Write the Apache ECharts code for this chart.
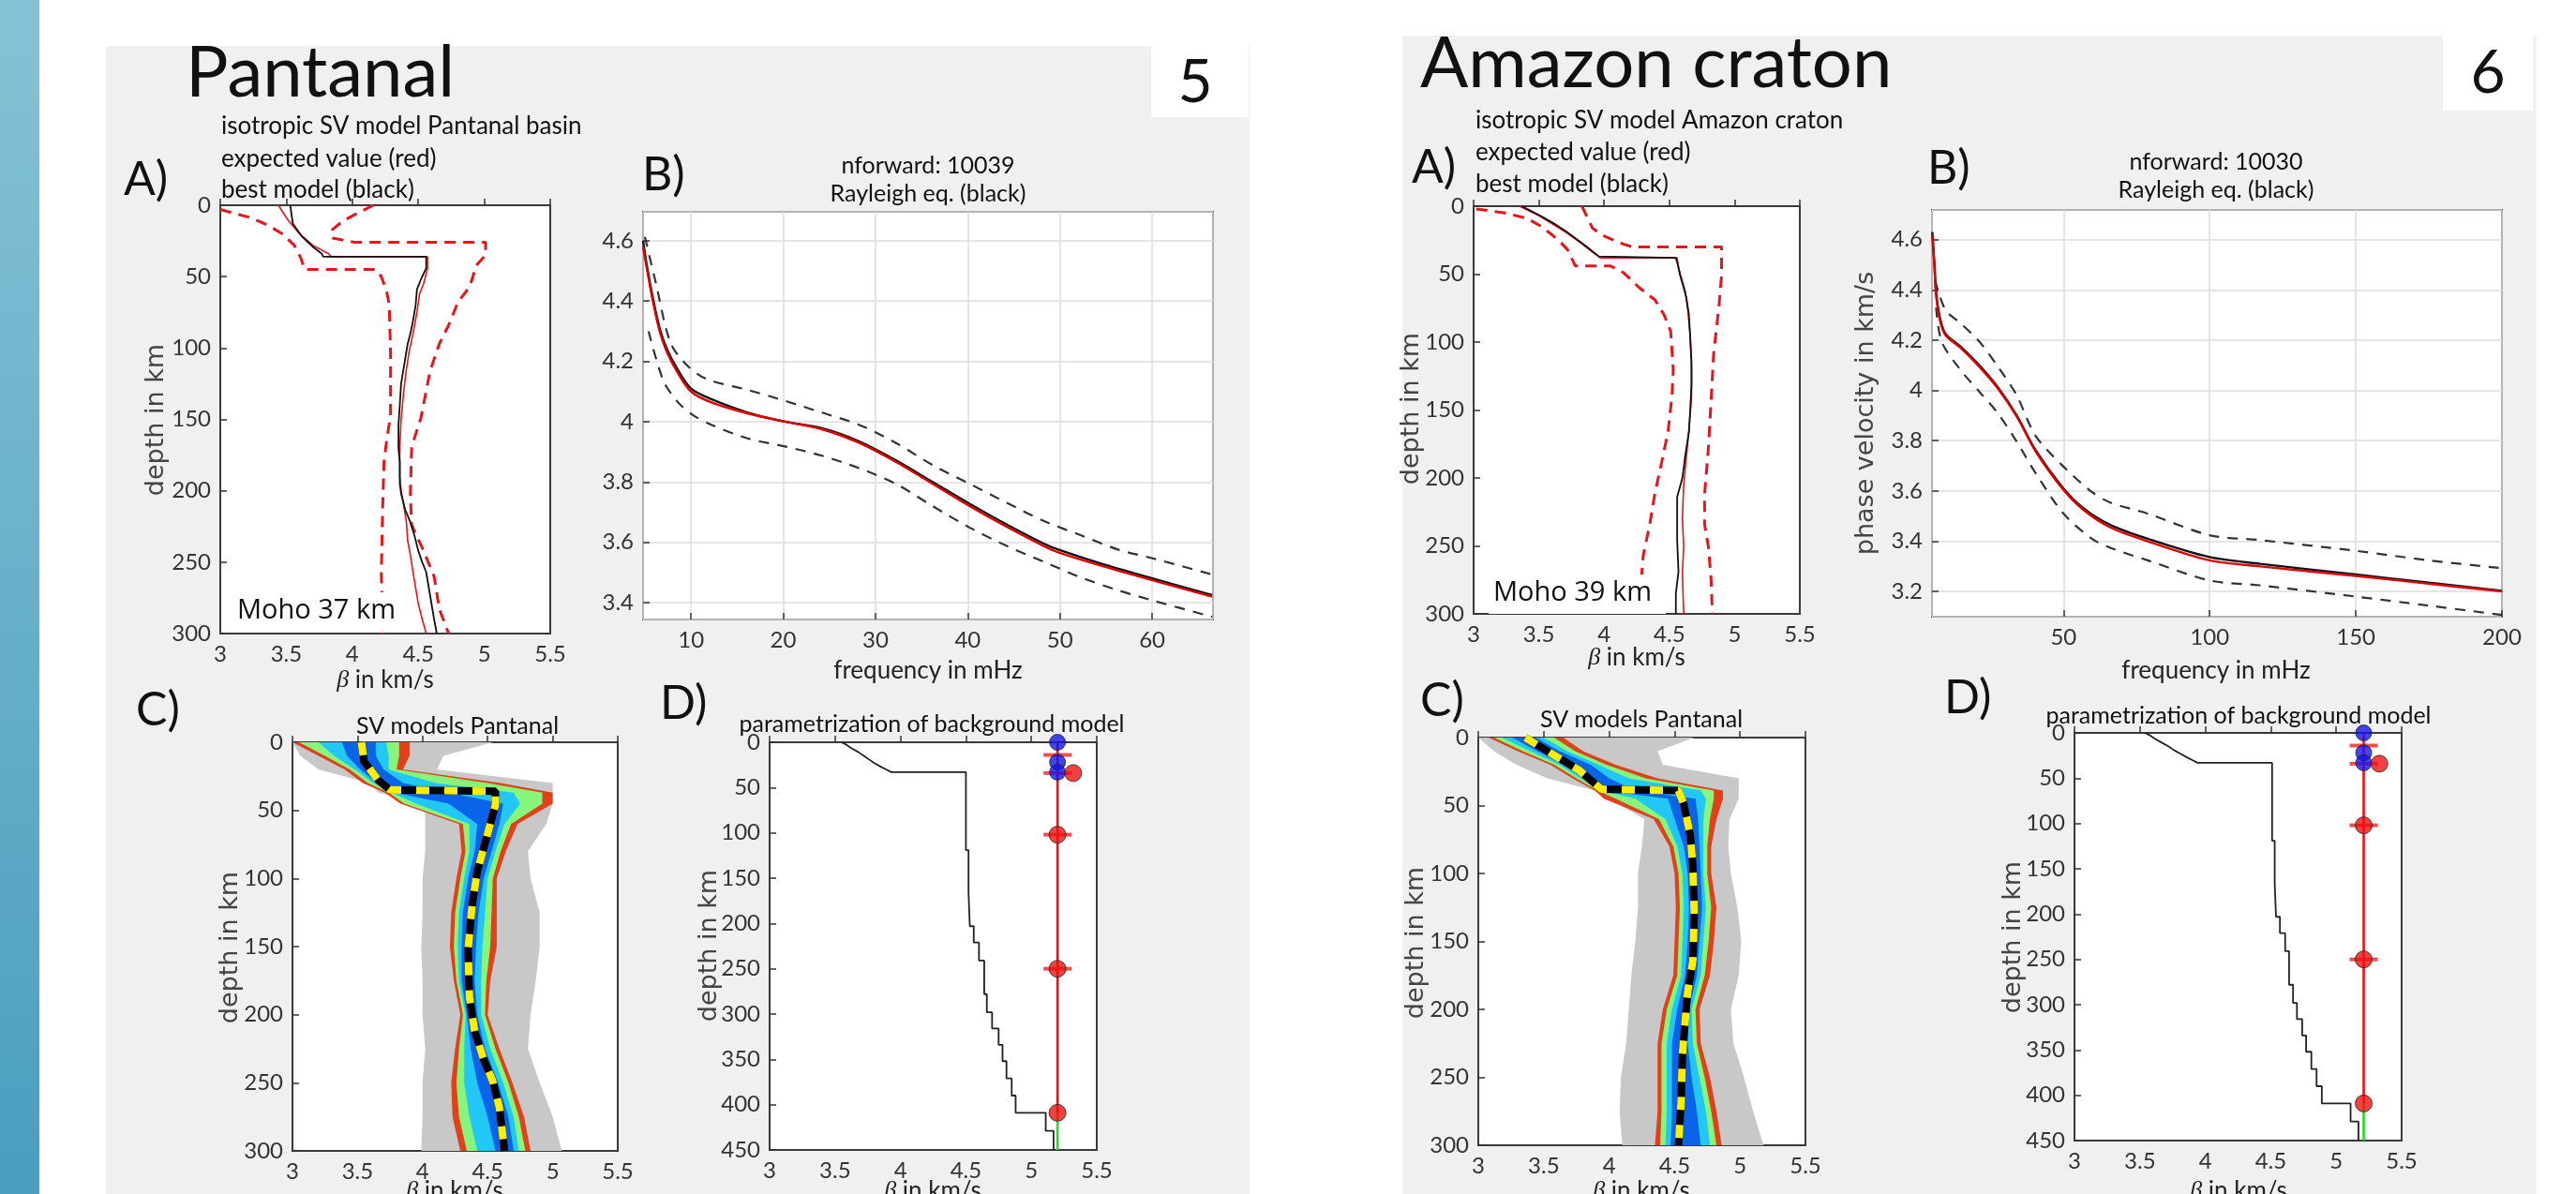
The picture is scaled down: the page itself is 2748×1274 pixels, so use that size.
<!DOCTYPE html>
<html>
<head>
    <meta charset="utf-8">
</head>
<body style="margin: 0; background: #fff">
<div id="container" style="width: 2748px; height: 1274px"></div>
<script src="https://cdn.jsdelivr.net/npm/echarts@6/dist/echarts.min.js"></script>
<script type="text/javascript">
    // ---------- Pantanal (5) ----------
    // A) velocity profiles [beta km/s, depth km]
    var panA_lo = [[3.00,3],[3.12,6],[3.24,9],[3.36,14],[3.47,20],[3.56,28],[3.61,37],[3.64,45],[4.18,45],[4.22,50],[4.26,60],[4.28,70],[4.29,103],[4.29,147],[4.26,165],[4.24,180],[4.23,213],[4.22,257],[4.23,300]];
    var panA_up = [[4.16,0],[4.05,5],[3.93,11],[3.85,17],[3.85,23],[4.02,26],[5.01,26],[5.01,35],[4.94,42],[4.89,57],[4.80,68],[4.73,84],[4.66,97],[4.59,116],[4.56,130],[4.52,149],[4.45,169],[4.44,202],[4.45,224],[4.54,242],[4.62,260],[4.66,283],[4.73,300]];
    var panA_exp = [[3.44,0],[3.51,10],[3.60,20],[3.70,28],[3.82,34],[3.84,36],[4.57,36],[4.57,44],[4.56,48],[4.54,55],[4.51,62],[4.49,75],[4.46,90],[4.43,103],[4.41,115],[4.39,130],[4.37,150],[4.36,170],[4.36,190],[4.37,200],[4.39,210],[4.41,222],[4.42,235],[4.44,245],[4.46,257],[4.48,268],[4.50,279],[4.53,290],[4.56,300]];
    var panA_best = [[3.53,0],[3.55,13],[3.62,22],[3.70,29],[3.77,34],[3.78,36],[4.56,36],[4.56,44],[4.55,46],[4.52,52],[4.49,59],[4.48,70],[4.46,81],[4.44,90],[4.42,97],[4.40,108],[4.37,125],[4.36,140],[4.35,154],[4.35,170],[4.36,180],[4.36,195],[4.37,202],[4.40,213],[4.44,222],[4.47,231],[4.50,242],[4.53,250],[4.56,257],[4.58,268],[4.60,279],[4.62,290],[4.64,300]];

    // B) dispersion, frequency (mHz) vs phase velocity (km/s)
    var panB_freq = [4.8, 5.2, 5.8, 6.6, 7.4, 8.6, 10, 12.2, 16.2, 20.2, 24.2, 28.2, 32.2, 36.2, 40.2, 44.3, 48.3, 49.9, 54.3, 60.3, 66.5];
    var panB_red = [4.58, 4.51, 4.41, 4.30, 4.23, 4.16, 4.10, 4.064, 4.027, 4.0, 3.975, 3.93, 3.867, 3.794, 3.72, 3.65, 3.587, 3.566, 3.524, 3.472, 3.42];
    var panB_black = [4.60, 4.52, 4.42, 4.31, 4.24, 4.17, 4.11, 4.075, 4.03, 4.0, 3.978, 3.935, 3.872, 3.80, 3.728, 3.658, 3.595, 3.575, 3.531, 3.478, 3.425];
    var panB_upFreq = [5.0, 6.2, 7.8, 9.8, 11.8, 16.2, 20.2, 24.2, 28.2, 32.2, 36.2, 40.2, 44.3, 48.3, 52.3, 56.3, 60.3, 66.5];
    var panB_up = [4.613, 4.458, 4.26, 4.18, 4.14, 4.105, 4.069, 4.03, 3.99, 3.93, 3.856, 3.794, 3.73, 3.67, 3.623, 3.576, 3.545, 3.493];
    var panB_loFreq = [5.4, 7.0, 8.6, 10.2, 12.2, 16.2, 20.2, 24.2, 28.2, 32.2, 36.2, 40.2, 44.3, 48.3, 52.3, 56.3, 60.3, 66.5];
    var panB_lo = [4.30, 4.136, 4.064, 4.022, 3.99, 3.944, 3.918, 3.887, 3.846, 3.794, 3.72, 3.649, 3.587, 3.535, 3.483, 3.441, 3.405, 3.353];

    // C) model ensemble envelopes (left/right beta at each depth)
    var panC_depth = [0, 10, 20, 30, 37, 45, 60, 80, 100, 125, 150, 175, 200, 225, 250, 275, 300];
    var panC_grayL = [3.00, 3.06, 3.20, 3.59, 3.66, 4.02, 4.02, 4.02, 4.00, 4.00, 3.99, 4.00, 4.00, 4.02, 4.00, 4.00, 3.99];
    var panC_grayR = [4.54, 4.16, 4.11, 5.00, 5.00, 5.00, 4.95, 4.81, 4.83, 4.90, 4.90, 4.87, 4.83, 4.81, 4.90, 5.00, 5.07];
    var panC_redL = [3.00, 3.20, 3.40, 3.54, 3.71, 3.83, 4.28, 4.30, 4.26, 4.22, 4.21, 4.24, 4.29, 4.25, 4.22, 4.23, 4.29];
    var panC_redR = [3.90, 3.90, 3.85, 4.60, 5.00, 5.00, 4.73, 4.64, 4.57, 4.57, 4.57, 4.52, 4.50, 4.59, 4.69, 4.78, 4.83];
    var panC_greenL = [3.05, 3.25, 3.44, 3.58, 3.74, 3.86, 4.31, 4.33, 4.29, 4.25, 4.24, 4.26, 4.31, 4.28, 4.26, 4.28, 4.34];
    var panC_greenR = [3.82, 3.82, 3.80, 4.50, 4.92, 4.92, 4.68, 4.60, 4.54, 4.53, 4.52, 4.49, 4.48, 4.56, 4.66, 4.74, 4.79];
    var panC_cyanL = [3.20, 3.32, 3.48, 3.62, 3.76, 3.95, 4.36, 4.36, 4.32, 4.28, 4.27, 4.28, 4.33, 4.32, 4.32, 4.36, 4.42];
    var panC_cyanR = [3.72, 3.74, 3.74, 4.10, 4.70, 4.75, 4.63, 4.56, 4.50, 4.48, 4.46, 4.45, 4.45, 4.52, 4.62, 4.70, 4.74];
    var panC_blueL = [3.38, 3.42, 3.52, 3.65, 3.78, 4.20, 4.42, 4.40, 4.35, 4.31, 4.30, 4.30, 4.34, 4.37, 4.42, 4.50, 4.56];
    var panC_blueR = [3.64, 3.64, 3.70, 3.85, 4.20, 4.62, 4.59, 4.53, 4.47, 4.43, 4.41, 4.40, 4.42, 4.48, 4.58, 4.66, 4.70];
    var panC_mean = [[3.53,0],[3.55,14],[3.66,28],[3.75,35],[3.76,36],[4.56,36],[4.56,46],[4.50,67],[4.42,95],[4.38,120],[4.35,152],[4.36,187],[4.40,212],[4.47,233],[4.54,249],[4.59,268],[4.63,300]];

    // D) background model parametrization
    var panD_model = [[3.55,0],[3.59,3],[3.63,7],[3.68,11],[3.72,15],[3.76,19],[3.80,23],[3.85,27],[3.89,30],[3.93,33],[4.50,33],[4.50,119],[4.52,119],[4.52,166],[4.53,166],[4.53,203],[4.56,203],[4.56,221],[4.60,221],[4.60,241],[4.64,241],[4.64,278],[4.66,278],[4.66,298],[4.70,298],[4.70,316],[4.75,316],[4.75,334],[4.78,334],[4.78,352],[4.81,352],[4.81,371],[4.85,371],[4.85,390],[4.88,390],[4.88,409],[5.11,409],[5.11,429],[5.17,429],[5.17,450]];
    var panD_redLine = [[5.2,0],[5.2,409]];
    var panD_greenLine = [[5.2,409],[5.2,450]];
    var panD_blue = [[5.2,0],[5.2,22],[5.2,33]];
    var panD_bars = [[5.2,14],[5.2,34],[5.2,102],[5.2,250]];
    var panD_red = [[5.2,102],[5.2,250],[5.2,409],[5.32,34]];

    // ---------- Amazon craton (6) ----------
    var amaA_lo = [[3.02,2],[3.24,5],[3.41,9],[3.52,15],[3.60,21],[3.67,27],[3.72,32],[3.78,44],[4.05,44],[4.15,49],[4.27,60],[4.39,69],[4.46,80],[4.51,92],[4.53,120],[4.52,140],[4.49,166],[4.44,189],[4.39,211],[4.35,234],[4.30,257],[4.28,280],[4.28,300]];
    var amaA_up = [[3.83,0],[3.87,8],[3.91,16],[3.98,21],[4.05,24],[4.15,28],[4.22,30],[4.90,30],[4.90,51],[4.88,74],[4.84,108],[4.82,143],[4.80,177],[4.77,212],[4.77,234],[4.80,251],[4.82,275],[4.83,300]];
    var amaA_exp = [[3.35,0],[3.50,7],[3.62,14],[3.72,20],[3.82,27],[3.90,33],[3.97,38],[4.56,38],[4.57,45],[4.59,52],[4.62,62],[4.64,75],[4.66,95],[4.67,120],[4.67,140],[4.65,165],[4.63,185],[4.61,205],[4.60,230],[4.61,250],[4.60,270],[4.61,300]];
    var amaA_best = [[3.37,0],[3.51,7],[3.62,13],[3.70,18],[3.80,25],[3.87,30],[3.96,37],[3.97,38],[4.55,38],[4.57,45],[4.58,50],[4.61,60],[4.63,67],[4.65,80],[4.66,97],[4.67,115],[4.67,131],[4.66,150],[4.65,166],[4.62,185],[4.60,200],[4.56,214],[4.56,246],[4.57,269],[4.55,285],[4.55,300]];

    var amaB_freq = [5.1, 5.8, 6.4, 7.7, 9.6, 14.7, 21.2, 27.6, 34, 40.4, 50, 57, 66, 78.8, 100, 117.3, 150, 175, 200];
    var amaB_red = [4.616, 4.50, 4.38, 4.28, 4.22, 4.17, 4.094, 4.007, 3.896, 3.759, 3.604, 3.523, 3.455, 3.40, 3.324, 3.30, 3.262, 3.231, 3.20];
    var amaB_black = [4.63, 4.51, 4.39, 4.29, 4.225, 4.175, 4.10, 4.012, 3.90, 3.763, 3.61, 3.53, 3.465, 3.41, 3.337, 3.31, 3.268, 3.235, 3.203];
    var amaB_upFreq = [6.0, 9.6, 14.7, 21.2, 27.6, 34, 40.4, 50, 59.6, 66, 78.8, 100, 117, 150, 175, 200];
    var amaB_up = [4.44, 4.32, 4.268, 4.194, 4.094, 3.98, 3.82, 3.697, 3.597, 3.554, 3.51, 3.424, 3.405, 3.362, 3.324, 3.293];
    var amaB_loFreq = [6.4, 8.3, 14.7, 21.2, 27.6, 34, 40.4, 50, 59.6, 66, 78.8, 100, 117, 150, 175, 200];
    var amaB_lo = [4.33, 4.194, 4.082, 3.995, 3.908, 3.796, 3.672, 3.51, 3.411, 3.374, 3.324, 3.244, 3.225, 3.18, 3.144, 3.107];

    var amaC_depth = [0, 10, 20, 30, 39, 45, 60, 80, 100, 125, 150, 175, 200, 225, 250, 275, 300];
    var amaC_grayL = [3.00, 3.12, 3.29, 3.53, 3.89, 4.00, 4.27, 4.25, 4.22, 4.22, 4.20, 4.17, 4.15, 4.13, 4.09, 4.08, 4.10];
    var amaC_grayR = [4.65, 4.37, 4.41, 4.99, 4.99, 4.99, 4.92, 4.91, 4.93, 4.98, 5.01, 4.99, 4.93, 4.95, 5.03, 5.10, 5.18];
    var amaC_redL = [3.08, 3.30, 3.55, 3.72, 3.89, 3.96, 4.34, 4.46, 4.50, 4.51, 4.50, 4.49, 4.41, 4.37, 4.37, 4.37, 4.35];
    var amaC_redR = [3.65, 3.80, 4.05, 4.37, 4.87, 4.87, 4.82, 4.78, 4.78, 4.82, 4.80, 4.77, 4.69, 4.70, 4.77, 4.82, 4.86];
    var amaC_greenL = [3.12, 3.34, 3.58, 3.75, 3.91, 4.05, 4.38, 4.49, 4.53, 4.54, 4.53, 4.52, 4.44, 4.40, 4.40, 4.40, 4.39];
    var amaC_greenR = [3.58, 3.74, 3.98, 4.28, 4.80, 4.80, 4.77, 4.75, 4.75, 4.78, 4.76, 4.73, 4.66, 4.67, 4.73, 4.78, 4.82];
    var amaC_cyanL = [3.18, 3.40, 3.62, 3.78, 3.93, 4.20, 4.43, 4.52, 4.56, 4.57, 4.56, 4.55, 4.48, 4.44, 4.44, 4.44, 4.43];
    var amaC_cyanR = [3.50, 3.68, 3.92, 4.15, 4.70, 4.74, 4.72, 4.72, 4.72, 4.74, 4.72, 4.70, 4.63, 4.64, 4.69, 4.74, 4.77];
    var amaC_blueL = [3.26, 3.45, 3.65, 3.81, 3.95, 4.45, 4.50, 4.57, 4.60, 4.61, 4.60, 4.58, 4.52, 4.48, 4.48, 4.48, 4.47];
    var amaC_blueR = [3.44, 3.62, 3.86, 4.00, 4.20, 4.66, 4.68, 4.69, 4.70, 4.71, 4.69, 4.67, 4.61, 4.60, 4.63, 4.67, 4.70];
    var amaC_mean = [[3.36,0],[3.58,13],[3.77,24],[3.94,38],[3.95,39],[4.53,39],[4.57,49],[4.62,72],[4.64,95],[4.65,130],[4.64,164],[4.60,187],[4.58,210],[4.56,233],[4.55,268],[4.53,300]];

    var amaD_model = [[3.54,0],[3.58,3],[3.62,7],[3.67,11],[3.72,15],[3.76,19],[3.81,23],[3.86,27],[3.90,30],[3.94,33],[4.51,33],[4.51,119],[4.53,119],[4.53,166],[4.54,166],[4.54,203],[4.57,203],[4.57,221],[4.61,221],[4.61,241],[4.64,241],[4.64,278],[4.67,278],[4.67,298],[4.70,298],[4.70,316],[4.74,316],[4.74,334],[4.77,334],[4.77,352],[4.81,352],[4.81,371],[4.85,371],[4.85,390],[4.89,390],[4.89,409],[5.11,409],[5.11,429],[5.17,429],[5.17,450]];
    var amaD_redLine = [[5.21,0],[5.21,409]];
    var amaD_greenLine = [[5.21,409],[5.21,450]];
    var amaD_blue = [[5.21,0],[5.21,22],[5.21,33]];
    var amaD_bars = [[5.21,14],[5.21,34],[5.21,102],[5.21,250]];
    var amaD_red = [[5.21,102],[5.21,250],[5.21,409],[5.33,34]];

    var UI = 'Lato, "Open Sans", sans-serif';
    var AXF = '"DejaVu Sans", sans-serif';

    function zip(xs, ys) {
        return xs.map(function (x, i) { return [x, ys[i]]; });
    }

    var grids = [
        {left: 235, top: 219, width: 352, height: 457},   // 5 A
        {left: 686, top: 226, width: 608, height: 435},   // 5 B
        {left: 312, top: 792, width: 347, height: 436},   // 5 C
        {left: 821, top: 792, width: 349, height: 435},   // 5 D
        {left: 1572, top: 220, width: 348, height: 435},  // 6 A
        {left: 2061, top: 224, width: 608, height: 434},  // 6 B
        {left: 1577, top: 787, width: 349, height: 435},  // 6 C
        {left: 2213, top: 782, width: 349, height: 435}   // 6 D
    ].map(function (g) {
        g.show = true;
        g.backgroundColor = '#fff';
        g.borderColor = '#3a3a3a';
        g.borderWidth = 2;
        return g;
    });

    function axisBase(gi) {
        return {
            type: 'value', gridIndex: gi,
            axisLine: {show: false},
            axisTick: {show: true, inside: true, length: 7, lineStyle: {color: '#333', width: 1.5}},
            axisLabel: {fontSize: 24, color: '#333', fontFamily: UI, margin: 10},
            splitLine: {show: false}
        };
    }
    function velAxis(gi) {
        var a = axisBase(gi);
        a.min = 3; a.max = 5.5; a.interval = 0.5;
        return a;
    }
    function depthAxis(gi, max) {
        var a = axisBase(gi);
        a.min = 0; a.max = max; a.interval = 50; a.inverse = true;
        return a;
    }
    function dispAxis(gi, min, max, split, showMax) {
        var a = axisBase(gi);
        a.min = min; a.max = max; a.splitNumber = split;
        a.axisLabel.showMinLabel = false;
        a.axisLabel.showMaxLabel = showMax;
        a.splitLine = {show: true, lineStyle: {color: '#dcdcdc', width: 1.5}};
        return a;
    }

    var xAxes = [
        velAxis(0), dispAxis(1, 4.8, 66.6, 6, false), velAxis(2), velAxis(3),
        velAxis(4), dispAxis(5, 5, 200, 4, true), velAxis(6), velAxis(7)
    ];
    var yAxes = [
        depthAxis(0, 300), dispAxis(1, 3.344, 4.696, 7, false), depthAxis(2, 300), depthAxis(3, 450),
        depthAxis(4, 300), dispAxis(5, 3.10, 4.718, 7, false), depthAxis(6, 300), depthAxis(7, 450)
    ];

    function line(gi, data, color, width, type, z) {
        return {
            type: 'line', xAxisIndex: gi, yAxisIndex: gi, data: data,
            symbol: 'none', showSymbol: false, silent: true, z: z || 3,
            lineStyle: {color: color, width: width, type: type || 'solid'}
        };
    }
    function smoothLine(gi, data, color, width, type) {
        var s = line(gi, data, color, width, type);
        s.smooth = 0.3;
        return s;
    }
    function band(gi, depth, L, R, color) {
        return {
            type: 'custom', xAxisIndex: gi, yAxisIndex: gi, silent: true, z: 2,
            data: [[L[0], depth[0]]],
            renderItem: function (params, api) {
                var pts = [];
                for (var i = 0; i < depth.length; i++) pts.push(api.coord([L[i], depth[i]]));
                for (var j = depth.length - 1; j >= 0; j--) pts.push(api.coord([R[j], depth[j]]));
                return {type: 'polygon', shape: {points: pts}, style: {fill: color}};
            }
        };
    }
    function dots(gi, data, color, size, symbol) {
        return {
            type: 'scatter', xAxisIndex: gi, yAxisIndex: gi, data: data, silent: true, z: 5,
            symbol: symbol || 'circle', symbolSize: size,
            itemStyle: {color: color, borderColor: symbol ? color : '#222', borderWidth: symbol ? 0 : 1}
        };
    }

    var RED = '#e8141b';
    var series = [];

    function profilePanel(gi, lo, up, exp, best) {
        series.push(line(gi, lo, RED, 3, [12, 8]));
        series.push(line(gi, up, RED, 3, [12, 8]));
        series.push(line(gi, exp, RED, 1.6));
        series.push(line(gi, best, '#111', 1.8));
    }
    function dispPanel(gi, f, black, red, uf, up, lf, lo) {
        series.push(smoothLine(gi, zip(uf, up), '#333', 2.2, [11, 9]));
        series.push(smoothLine(gi, zip(lf, lo), '#333', 2.2, [11, 9]));
        series.push(smoothLine(gi, zip(f, black), '#111', 2.4));
        series.push(smoothLine(gi, zip(f, red), '#e00000', 2.4));
    }
    function ensemblePanel(gi, d, b, mean) {
        series.push(band(gi, d, b.grayL, b.grayR, '#c8c8c8'));
        series.push(band(gi, d, b.redL, b.redR, '#e0401a'));
        series.push(band(gi, d, b.greenL, b.greenR, '#86f57a'));
        series.push(band(gi, d, b.cyanL, b.cyanR, '#22c8f5'));
        series.push(band(gi, d, b.blueL, b.blueR, '#0a64e8'));
        series.push(line(gi, mean, '#000', 8, 'solid', 4));
        series.push(line(gi, mean, '#ffee00', 8, [14, 16], 4));
    }
    function paramPanel(gi, model, redLine, greenLine, blue, bars, red) {
        series.push(line(gi, model, '#222', 1.8));
        series.push(line(gi, redLine, '#ee1111', 2.6));
        series.push(line(gi, greenLine, '#22dd22', 2.6));
        series.push(dots(gi, bars, '#ee2222', [30, 4], 'rect'));
        series.push(dots(gi, blue, '#1515e8', 17));
        series.push(dots(gi, red, '#ee1111', 18));
    }

    profilePanel(0, panA_lo, panA_up, panA_exp, panA_best);
    dispPanel(1, panB_freq, panB_black, panB_red, panB_upFreq, panB_up, panB_loFreq, panB_lo);
    ensemblePanel(2, panC_depth, {
        grayL: panC_grayL, grayR: panC_grayR, redL: panC_redL, redR: panC_redR,
        greenL: panC_greenL, greenR: panC_greenR, cyanL: panC_cyanL, cyanR: panC_cyanR,
        blueL: panC_blueL, blueR: panC_blueR
    }, panC_mean);
    paramPanel(3, panD_model, panD_redLine, panD_greenLine, panD_blue, panD_bars, panD_red);

    profilePanel(4, amaA_lo, amaA_up, amaA_exp, amaA_best);
    dispPanel(5, amaB_freq, amaB_black, amaB_red, amaB_upFreq, amaB_up, amaB_loFreq, amaB_lo);
    ensemblePanel(6, amaC_depth, {
        grayL: amaC_grayL, grayR: amaC_grayR, redL: amaC_redL, redR: amaC_redR,
        greenL: amaC_greenL, greenR: amaC_greenR, cyanL: amaC_cyanL, cyanR: amaC_cyanR,
        blueL: amaC_blueL, blueR: amaC_blueR
    }, amaC_mean);
    paramPanel(7, amaD_model, amaD_redLine, amaD_greenLine, amaD_blue, amaD_bars, amaD_red);

    // ---------- texts and backgrounds ----------
    function txt(x, y, s, size, o) {
        o = o || {};
        return {
            type: 'text', x: x, y: y, rotation: o.rot || 0, z: 100, silent: true,
            style: {
                text: s, fontSize: size, fontFamily: o.font || UI, fill: o.color || '#111',
                textAlign: o.align || 'left', textVerticalAlign: 'middle',
                align: o.align || 'left', verticalAlign: 'middle', rich: o.rich
            }
        };
    }
    function box(x, y, w, h, fill, z) {
        return {type: 'rect', silent: true, z: z, shape: {x: x, y: y, width: w, height: h}, style: {fill: fill}};
    }
    var betaRich = {i: {fontStyle: 'italic', fontSize: 26, fontFamily: 'serif'}};
    function betaLabel(x, y) {
        return txt(x, y, '{i|β} in km/s', 26, {align: 'center', rich: betaRich, color: '#222'});
    }
    function yName(x, y, s) {
        return txt(x, y, s, 27, {align: 'center', rot: Math.PI / 2, font: AXF, color: '#444'});
    }

    var graphics = [
        {
            type: 'rect', silent: true, z: -20, shape: {x: 0, y: 0, width: 42, height: 1274},
            style: {fill: new echarts.graphic.LinearGradient(0, 0, 0, 1, [
                {offset: 0, color: '#86c2d5'}, {offset: 1, color: '#4a9ebf'}
            ])}
        },
        box(113, 49, 1220, 1225, '#f0f0f0', -10),
        box(1496, 38, 1210, 1236, '#f0f0f0', -10),
        box(1228, 49, 104, 76, '#ffffff', -5),
        box(2606, 38, 96, 80, '#ffffff', -5),
        box(247, 632, 191, 43, '#ffffff', 50),
        box(1588, 613, 189, 42, '#ffffff', 50),

        // Pantanal
        txt(198, 78, 'Pantanal', 76),
        txt(1275, 88, '5', 64, {align: 'center'}),
        txt(236, 135, 'isotropic SV model Pantanal basin', 26),
        txt(236, 170, 'expected value (red)', 26),
        txt(236, 203, 'best model (black)', 26),
        txt(132, 192, 'A)', 50),
        txt(685, 187, 'B)', 50),
        txt(990, 177, 'nforward: 10039', 25, {align: 'center'}),
        txt(990, 207, 'Rayleigh eq. (black)', 25, {align: 'center'}),
        yName(167, 448, 'depth in km'),
        betaLabel(411, 726),
        txt(990, 716, 'frequency in mHz', 26, {align: 'center', color: '#222'}),
        txt(253, 652, 'Moho 37 km', 29, {font: '"Open Sans", sans-serif'}),
        txt(145, 758, 'C)', 50),
        txt(704, 751, 'D)', 50),
        txt(488, 775, 'SV models Pantanal', 25, {align: 'center'}),
        txt(994, 773, 'parametrization of background model', 25, {align: 'center'}),
        yName(246, 1011, 'depth in km'),
        yName(757, 1009, 'depth in km'),
        betaLabel(485, 1271),
        betaLabel(995, 1271),

        // Amazon craton
        txt(1515, 68, 'Amazon craton', 76),
        txt(2654, 78, '6', 64, {align: 'center'}),
        txt(1574, 129, 'isotropic SV model Amazon craton', 26),
        txt(1574, 163, 'expected value (red)', 26),
        txt(1574, 197, 'best model (black)', 26),
        txt(1506, 179, 'A)', 50),
        txt(2056, 180, 'B)', 50),
        txt(2364, 173, 'nforward: 10030', 25, {align: 'center'}),
        txt(2364, 203, 'Rayleigh eq. (black)', 25, {align: 'center'}),
        yName(1506, 436, 'depth in km'),
        yName(1991, 441, 'phase velocity in km/s'),
        betaLabel(1746, 702),
        txt(2364, 716, 'frequency in mHz', 26, {align: 'center', color: '#222'}),
        txt(1593, 633, 'Moho 39 km', 29, {font: '"Open Sans", sans-serif'}),
        txt(1515, 748, 'C)', 50),
        txt(2074, 745, 'D)', 50),
        txt(1751, 768, 'SV models Pantanal', 25, {align: 'center'}),
        txt(2388, 764, 'parametrization of background model', 25, {align: 'center'}),
        yName(1511, 1006, 'depth in km'),
        yName(2148, 1000, 'depth in km'),
        betaLabel(1751, 1271),
        betaLabel(2388, 1271)
    ];

    var chart = echarts.init(document.getElementById('container'));
    chart.setOption({
        animation: false,
        backgroundColor: '#ffffff',
        grid: grids,
        xAxis: xAxes,
        yAxis: yAxes,
        series: series,
        graphic: {elements: graphics}
    });
</script>
</body>
</html>
